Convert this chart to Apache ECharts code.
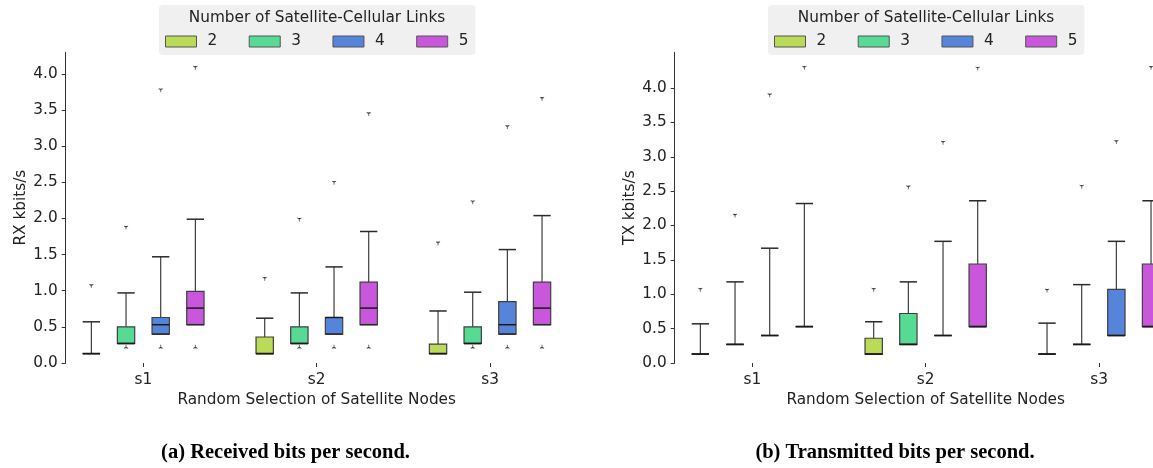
<!DOCTYPE html>
<html>
<head>
<meta charset="utf-8">
<script src="https://cdn.jsdelivr.net/npm/echarts@6/dist/echarts.min.js"></script>
<style>
html,body{margin:0;padding:0;background:#fff;}
#chart{width:1153px;height:468px;}
</style>
</head>
<body>
<div id="chart"></div>
<script>
// ---- data ----
const sites = ['s1', 's2', 's3'];
const linkCounts = ['2', '3', '4', '5'];
const linkColors = ['#b9db57', '#57db94', '#5784db', '#c957db'];
const yTickValues = [0, 0.5, 1, 1.5, 2, 2.5, 3, 3.5, 4];

// RX: per site -> [lower whisker, q1, median, q3, upper whisker]
const rxBox2 = [[0.13, 0.13, 0.13, 0.13, 0.57], [0.13, 0.13, 0.13, 0.36, 0.62], [0.13, 0.13, 0.13, 0.26, 0.72]];
const rxBox3 = [[0.27, 0.27, 0.27, 0.50, 0.97], [0.27, 0.27, 0.27, 0.50, 0.97], [0.27, 0.27, 0.27, 0.50, 0.98]];
const rxBox4 = [[0.40, 0.40, 0.53, 0.63, 1.47], [0.40, 0.40, 0.63, 0.63, 1.33], [0.40, 0.40, 0.53, 0.85, 1.57]];
const rxBox5 = [[0.53, 0.53, 0.76, 0.99, 1.99], [0.53, 0.53, 0.76, 1.12, 1.82], [0.53, 0.53, 0.76, 1.12, 2.04]];
const rxHigh2 = [1.07, 1.17, 1.66];
const rxHigh3 = [1.88, 1.99, 2.23];
const rxHigh4 = [3.78, 2.50, 3.27];
const rxHigh5 = [4.09, 3.45, 3.66];
const rxLow2 = [null, null, null];
const rxLow3 = [0.22, 0.22, 0.22];
const rxLow4 = [0.22, 0.22, 0.22];
const rxLow5 = [0.22, 0.22, 0.22];

// TX
const txBox2 = [[0.13, 0.13, 0.13, 0.13, 0.57], [0.13, 0.13, 0.13, 0.36, 0.60], [0.13, 0.13, 0.13, 0.13, 0.58]];
const txBox3 = [[0.27, 0.27, 0.27, 0.27, 1.18], [0.27, 0.27, 0.27, 0.72, 1.18], [0.27, 0.27, 0.27, 0.27, 1.14]];
const txBox4 = [[0.40, 0.40, 0.40, 0.40, 1.67], [0.40, 0.40, 0.40, 0.40, 1.77], [0.40, 0.40, 0.40, 1.07, 1.77]];
const txBox5 = [[0.53, 0.53, 0.53, 0.53, 2.32], [0.53, 0.53, 0.53, 1.44, 2.36], [0.53, 0.53, 0.53, 1.44, 2.36]];
const txHigh2 = [1.07, 1.07, 1.06];
const txHigh3 = [2.15, 2.56, 2.57];
const txHigh4 = [3.90, 3.21, 3.22];
const txHigh5 = [4.30, 4.29, 4.30];
const txLow2 = [null, null, null];
const txLow3 = [null, null, null];
const txLow4 = [null, null, null];
const txLow5 = [null, null, null];

// ---- build ----
const FONT = 'DejaVu Sans';
const FS = 15.3;
const LINE = '#3f3f3f';

function makeSeries(chartIdx, hueIdx, boxes, highs, lows) {
  const color = linkColors[hueIdx];
  return {
    type: 'custom',
    name: linkCounts[hueIdx],
    xAxisIndex: chartIdx,
    yAxisIndex: chartIdx,
    clip: false,
    itemStyle: { color: color, borderColor: LINE, borderWidth: 1 },
    encode: { x: 0, y: [1, 2, 3, 4, 5] },
    data: boxes.map((b, i) => [i, b[0], b[1], b[2], b[3], b[4],
      highs[i] == null ? '-' : highs[i], lows[i] == null ? '-' : lows[i]]),
    renderItem: function (params, api) {
      const xi = api.value(0);
      const bw = api.size([1, 0])[0];
      const cx = api.coord([xi, 0])[0] + (hueIdx - 1.5) * 0.2 * bw;
      const hw = 0.05 * bw;
      const Y = k => api.coord([xi, api.value(k)])[1];
      const yLow = Y(1), yQ1 = Y(2), yMed = Y(3), yQ3 = Y(4), yHigh = Y(5);
      const ls = { stroke: LINE, lineWidth: 1.2 };
      const children = [
        { type: 'line', shape: { x1: cx, y1: yQ1, x2: cx, y2: yLow }, style: ls },
        { type: 'line', shape: { x1: cx, y1: yQ3, x2: cx, y2: yHigh }, style: ls },
        { type: 'rect', shape: { x: cx - hw, y: yQ3, width: 2 * hw, height: yQ1 - yQ3 },
          style: { fill: color, stroke: LINE, lineWidth: 1.2 } },
        { type: 'line', shape: { x1: cx - hw, y1: yLow, x2: cx + hw, y2: yLow }, style: { stroke: '#2a2a2a', lineWidth: 1.5 } },
        { type: 'line', shape: { x1: cx - hw, y1: yHigh, x2: cx + hw, y2: yHigh }, style: { stroke: '#2a2a2a', lineWidth: 1.5 } },
        { type: 'line', shape: { x1: cx - hw, y1: yMed, x2: cx + hw, y2: yMed }, style: { stroke: '#1a1a1a', lineWidth: 1.5 } }
      ];
      const s = 2.4;
      const fs = { stroke: '#555', lineWidth: 0.8 };
      const fh = api.value(6);
      if (!isNaN(fh)) {
        const y = api.coord([xi, fh])[1];
        children.push({ type: 'polyline', shape: { points: [[cx - 0.866 * s, y - 0.5 * s], [cx, y], [cx + 0.866 * s, y - 0.5 * s]] }, style: fs });
        children.push({ type: 'line', shape: { x1: cx, y1: y, x2: cx, y2: y + s }, style: fs });
      }
      const fl = api.value(7);
      if (!isNaN(fl)) {
        const y = api.coord([xi, fl])[1];
        children.push({ type: 'polyline', shape: { points: [[cx - 0.866 * s, y + 0.5 * s], [cx, y], [cx + 0.866 * s, y + 0.5 * s]] }, style: fs });
        children.push({ type: 'line', shape: { x1: cx, y1: y, x2: cx, y2: y - s }, style: fs });
      }
      return { type: 'group', children: children };
    }
  };
}

const series = [
  makeSeries(0, 0, rxBox2, rxHigh2, rxLow2),
  makeSeries(0, 1, rxBox3, rxHigh3, rxLow3),
  makeSeries(0, 2, rxBox4, rxHigh4, rxLow4),
  makeSeries(0, 3, rxBox5, rxHigh5, rxLow5),
  makeSeries(1, 0, txBox2, txHigh2, txLow2),
  makeSeries(1, 1, txBox3, txHigh3, txLow3),
  makeSeries(1, 2, txBox4, txHigh4, txLow4),
  makeSeries(1, 3, txBox5, txHigh5, txLow5)
];

function xAxisOf(idx) {
  return {
    gridIndex: idx, type: 'category', data: sites, boundaryGap: true,
    axisLine: { show: false },
    axisTick: { show: true, alignWithLabel: true, length: 4, lineStyle: { color: '#333' } },
    axisLabel: { margin: 10, color: '#222', fontFamily: FONT, fontSize: FS },
    splitLine: { show: false },
    name: 'Random Selection of Satellite Nodes', nameLocation: 'middle', nameGap: 30,
    nameTextStyle: { color: '#222', fontFamily: FONT, fontSize: FS }
  };
}
function yAxisOf(idx, max, name) {
  return {
    gridIndex: idx, type: 'value', min: 0, max: max, offset: -9,
    axisLine: { show: true, lineStyle: { color: '#333', width: 1 } },
    axisTick: { show: true, length: 4, customValues: yTickValues, lineStyle: { color: '#333' } },
    axisLabel: { margin: 8, customValues: yTickValues, color: '#222', fontFamily: FONT, fontSize: FS,
      formatter: v => v.toFixed(1) },
    splitLine: { show: false },
    name: name, nameLocation: 'middle', nameGap: 37,
    nameTextStyle: { color: '#222', fontFamily: FONT, fontSize: FS }
  };
}
function legendOf(left) {
  return {
    data: linkCounts, left: left, top: 5, orient: 'horizontal', selectedMode: false,
    icon: 'rect', itemWidth: 31, itemHeight: 11, itemGap: 31.5,
    itemStyle: { borderColor: '#555', borderWidth: 1 },
    backgroundColor: '#f0f0f0', borderRadius: 4,
    padding: [29, 7, 6, 6],
    textStyle: { color: '#222', fontFamily: FONT, fontSize: FS, padding: [0, 0, 0, 6] }
  };
}
function textEl(x, y, text, font, fill) {
  return { type: 'text', x: x, y: y, z: 100, zlevel: 1,
    style: { text: text, textAlign: 'center', textVerticalAlign: 'middle', fill: fill, font: font } };
}

const chart = echarts.init(document.getElementById('chart'));
chart.setOption({
  animation: false,
  backgroundColor: '#fff',
  color: linkColors,
  grid: [
    { left: 56.7, top: 52.3, width: 520, height: 310.7, containLabel: false, outerBoundsMode: 'none' },
    { left: 665.7, top: 52.3, width: 520, height: 310.7, containLabel: false, outerBoundsMode: 'none' }
  ],
  xAxis: [xAxisOf(0), xAxisOf(1)],
  yAxis: [yAxisOf(0, 4.3, 'RX kbits/s'), yAxisOf(1, 4.52, 'TX kbits/s')],
  legend: [legendOf(159), legendOf(768)],
  graphic: [
    textEl(317, 18, 'Number of Satellite-Cellular Links', FS + 'px "' + FONT + '"', '#222'),
    textEl(926, 18, 'Number of Satellite-Cellular Links', FS + 'px "' + FONT + '"', '#222'),
    textEl(285.5, 453, '(a) Received bits per second.', 'bold 20.5px "Liberation Serif"', '#000'),
    textEl(895, 453, '(b) Transmitted bits per second.', 'bold 20.5px "Liberation Serif"', '#000')
  ],
  series: series
});
</script>
</body>
</html>
